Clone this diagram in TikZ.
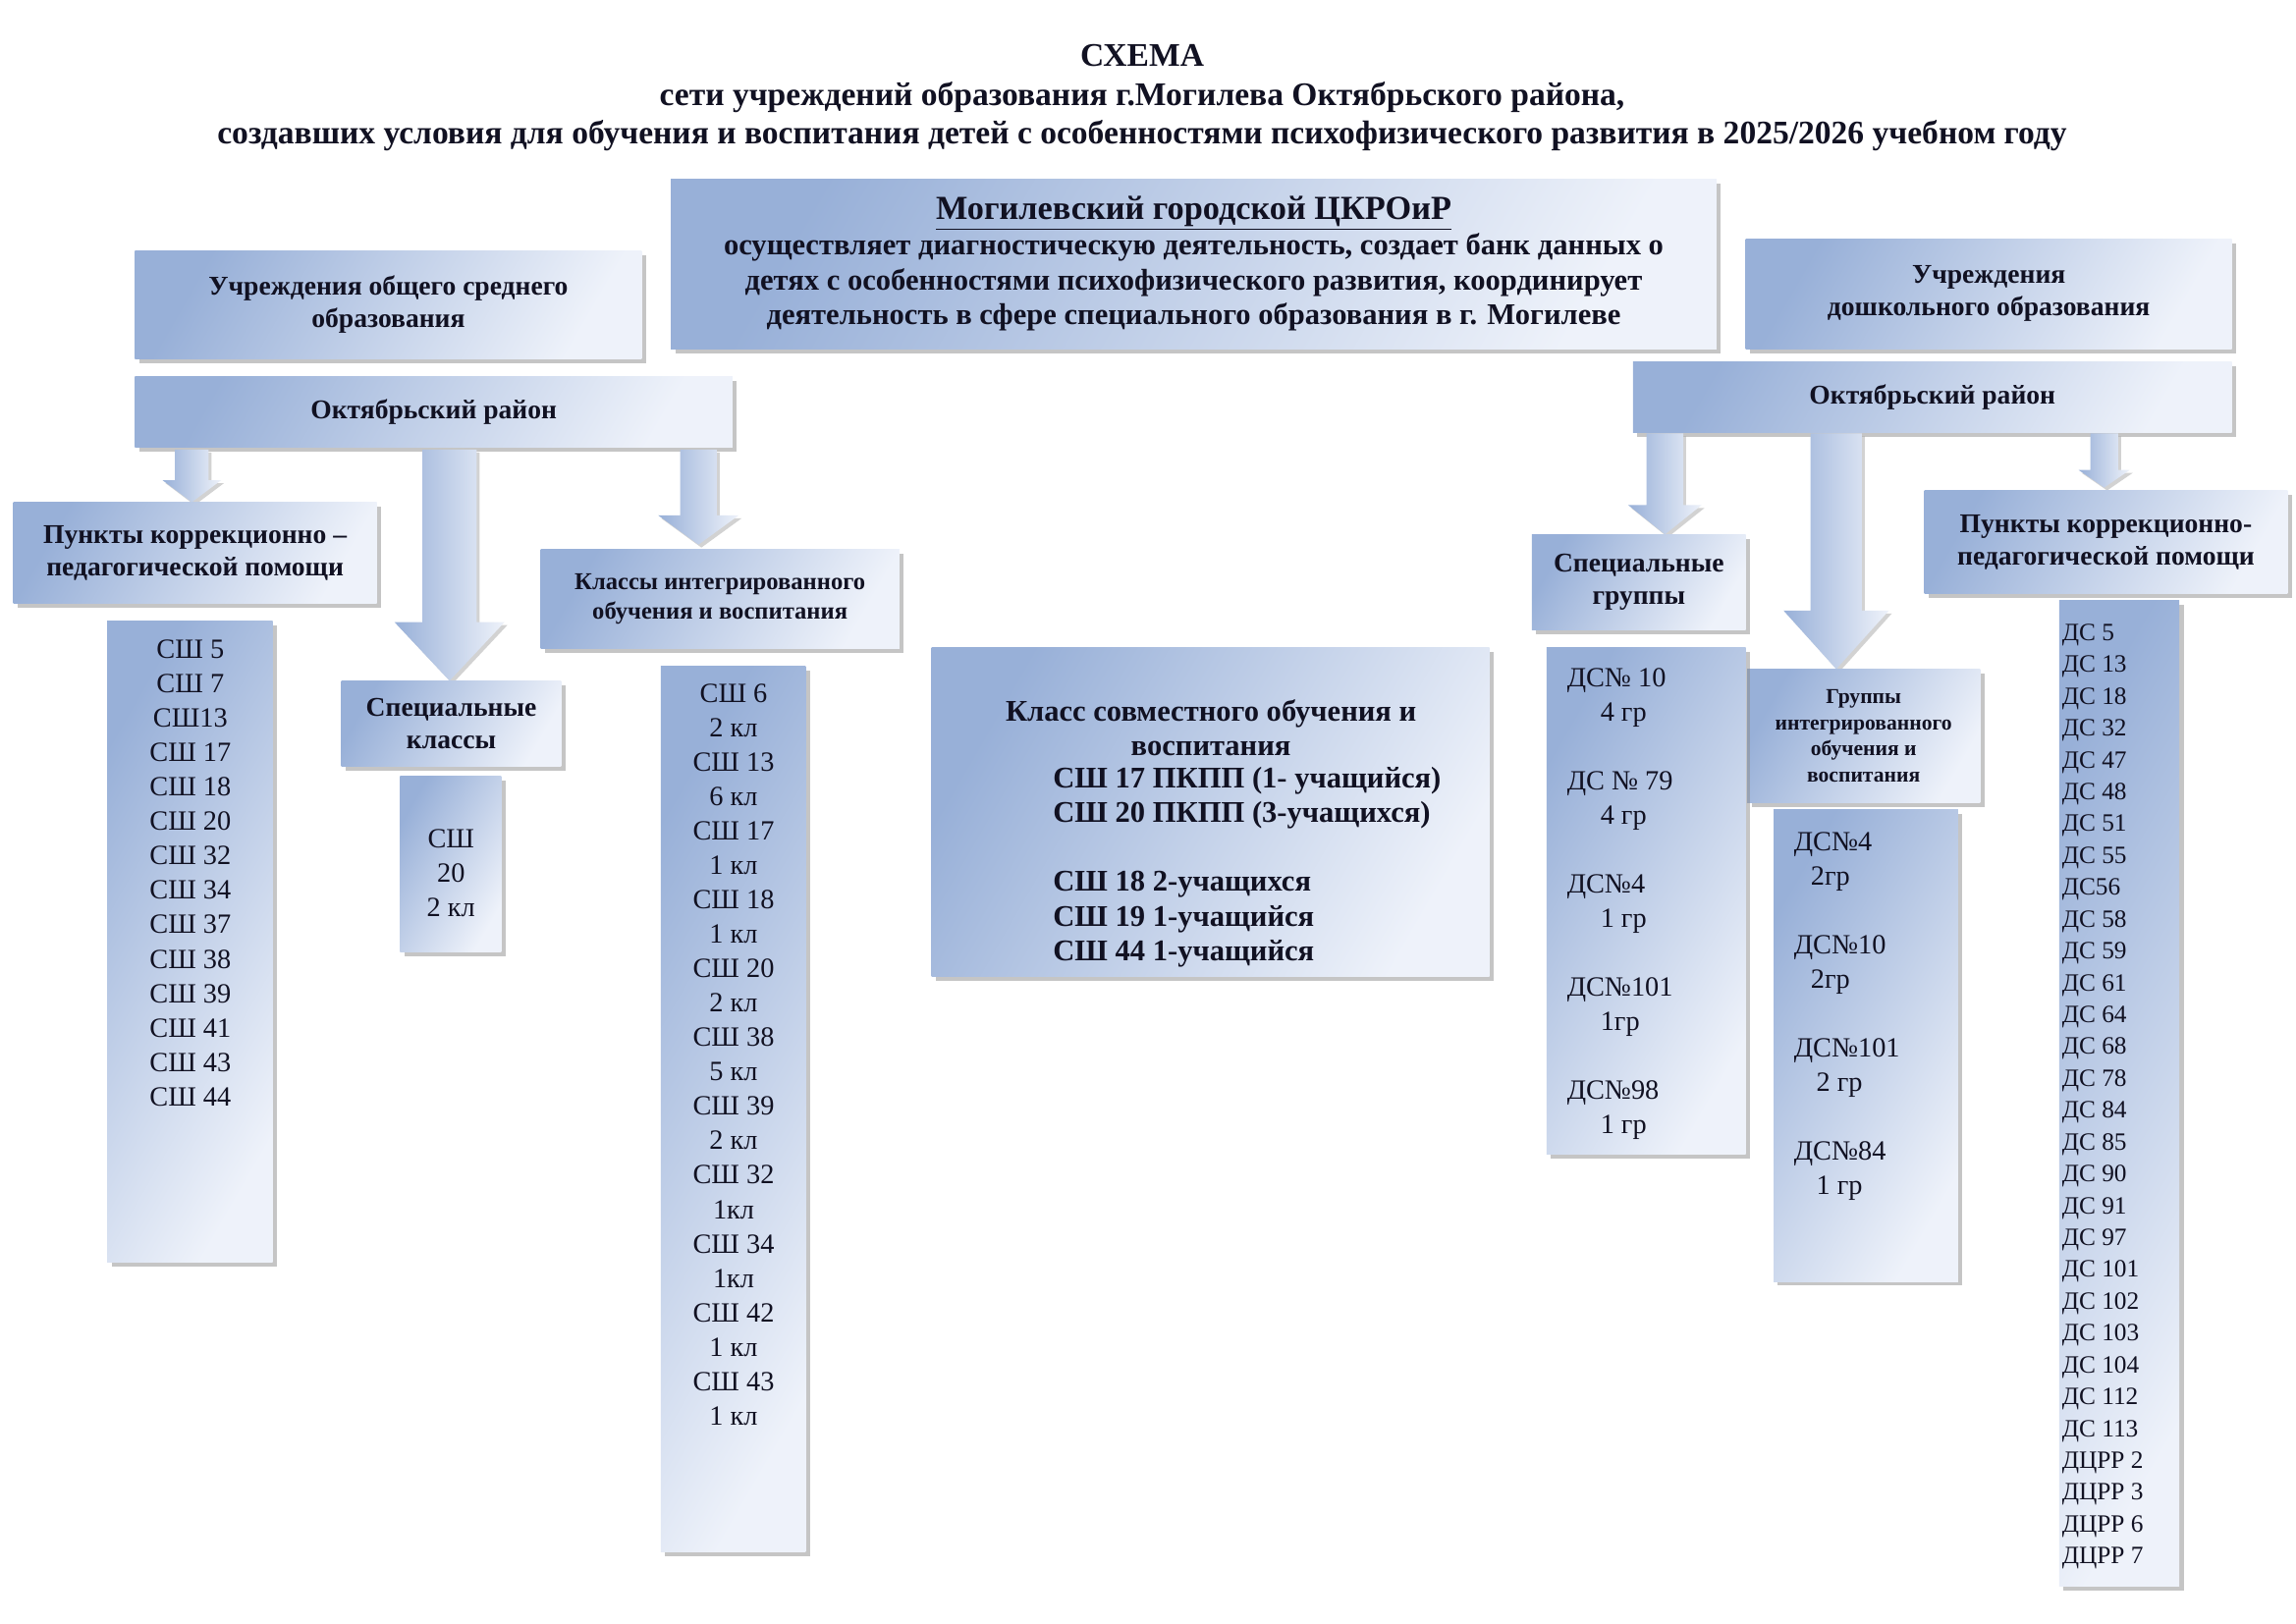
\documentclass[tikz,border=0pt]{standalone}
\usepackage{fontspec}
\setmainfont{Liberation Serif}
\usetikzlibrary{shadows}
\definecolor{bA}{HTML}{98B0D8}
\definecolor{bB}{HTML}{EEF2FA}
\definecolor{tx}{HTML}{111122}
\tikzset{
 box/.style={shading=axis,left color=bA,right color=bB,shading angle=60,
   drop shadow={shadow xshift=3pt,shadow yshift=-3pt,fill=black!45},
   anchor=north west,inner sep=2pt,align=center,text=tx,font=\bfseries\fontsize{18.5}{22}\selectfont},
 lst/.style={anchor=north,inner sep=0pt,text=tx,font=\fontsize{19}{23.5}\selectfont},
 arr/.style={shading=axis,left color=bA,right color=bB,shading angle=90,
   drop shadow={shadow xshift=2pt,shadow yshift=-2pt,fill=black!35}},
}
\newcommand{\bx}[7][]{\node[box,minimum width=#4-#2,minimum height=#5-#3,#1] (#6) at (#2,#3) {#7};}
\newcommand{\darr}[6]{\path[arr] (#1-#4/2,#2) -- (#1+#4/2,#2) -- (#1+#4/2,#3-#6) -- (#1+#5/2,#3-#6) -- (#1,#3) -- (#1-#5/2,#3-#6) -- (#1-#4/2,#3-#6) -- cycle;}
\begin{document}
\begin{tikzpicture}[x=1pt,y=-1pt]
\useasboundingbox[fill=white] (0,0) rectangle (1568,1109);
\node[text=tx,font=\bfseries\fontsize{22.5}{26.5}\selectfont,align=center] (title) at (780,67)
 {СХЕМА\\сети учреждений образования г.Могилева Октябрьского района,\\создавших условия для обучения и воспитания детей с особенностями психофизического развития в 2025/2026 учебном году};
% top boxes
\bx[font=\bfseries\fontsize{20.5}{24}\selectfont]{458}{122}{1172}{238}{cent}{{\fontsize{23}{24}\selectfont\underline{Могилевский городской ЦКРОиР}}\\осуществляет диагностическую деятельность, создает банк данных о\\детях с особенностями психофизического развития, координирует\\деятельность в сфере специального образования в г. Могилеве}
\bx{92}{171}{438}{245}{osr}{Учреждения общего среднего\\образования}
\bx{1192}{163}{1524}{238}{dosh}{Учреждения\\дошкольного образования}
\bx{92}{257}{500}{305}{lr}{Октябрьский район}
\bx{1115}{247}{1524}{295}{rr}{Октябрьский район}
% arrows
\darr{131}{307}{343}{23}{40}{15}
\darr{307}{307}{465}{37}{75}{40}
\darr{477}{307}{372}{25}{55}{20}
\darr{1137}{296}{365}{25}{50}{20}
\darr{1254}{296}{457}{35}{72}{40}
\darr{1437}{296}{333}{19}{35}{12}
% sub headers
\bx{9}{343}{257}{412}{pkp}{Пункты коррекционно –\\педагогической помощи}
\bx{233}{465}{383}{523}{spk}{Специальные\\классы}
\bx[font=\bfseries\fontsize{16.5}{20}\selectfont]{369}{375}{614}{443}{kio}{Классы интегрированного\\обучения и воспитания}
\bx{1046}{365}{1192}{430}{spg}{Специальные\\группы}
\bx[font=\bfseries\fontsize{14.5}{18}\selectfont]{1193}{457}{1352}{548}{gio}{Группы\\интегрированного\\обучения и\\воспитания}
\bx{1314}{335}{1562}{405}{pkp2}{Пункты коррекционно-\\педагогической помощи}
% list boxes
\bx{73}{424}{186}{862}{l1}{}
\bx{273}{530}{342}{650}{l2}{}
\bx{451}{455}{550}{1060}{l3}{}
\bx{636}{442}{1017}{667}{mid}{}
\bx{1056}{442}{1192}{788}{l4}{}
\bx{1211}{553}{1337}{875}{l5}{}
\bx{1406}{410}{1488}{1083}{l6}{}
\node[lst,align=center] (t1) at (130,437) {СШ 5\\СШ 7\\СШ13\\СШ 17\\СШ 18\\СШ 20\\СШ 32\\СШ 34\\СШ 37\\СШ 38\\СШ 39\\СШ 41\\СШ 43\\СШ 44};
\node[lst,align=center] (t2) at (308,566) {СШ\\20\\2 кл};
\node[lst,align=center] (t3) at (501,467) {СШ 6\\2 кл\\СШ 13\\6 кл\\СШ 17\\1 кл\\СШ 18\\1 кл\\СШ 20\\2 кл\\СШ 38\\5 кл\\СШ 39\\2 кл\\СШ 32\\1кл\\СШ 34\\1кл\\СШ 42\\1 кл\\СШ 43\\1 кл};
\node[anchor=north,inner sep=0pt,text=tx,font=\bfseries\fontsize{20.5}{23.5}\selectfont,align=center] (t4a) at (827,478) {Класс совместного обучения и\\воспитания};
\node[anchor=north west,inner sep=0pt,text=tx,font=\bfseries\fontsize{20.5}{23.5}\selectfont,align=left] (t4b) at (719,524) {СШ 17 ПКПП (1- учащийся)\\СШ 20 ПКПП (3-учащихся)\\[23.5pt]СШ 18 2-учащихся\\СШ 19 1-учащийся\\СШ 44 1-учащийся};
\node[lst,anchor=north west,align=left] (t5) at (1070,456) {ДС№ 10\\\hspace{1.2em}4 гр\\[23.5pt]ДС № 79\\\hspace{1.2em}4 гр\\[23.5pt]ДС№4\\\hspace{1.2em}1 гр\\[23.5pt]ДС№101\\\hspace{1.2em}1гр\\[23.5pt]ДС№98\\\hspace{1.2em}1 гр};
\node[lst,anchor=north west,align=left] (t6) at (1225,568) {ДС№4\\\hspace{0.6em}2гр\\[23.5pt]ДС№10\\\hspace{0.6em}2гр\\[23.5pt]ДС№101\\\hspace{0.8em}2 гр\\[23.5pt]ДС№84\\\hspace{0.8em}1 гр};
\node[lst,anchor=north west,align=left,font=\fontsize{17}{21.75}\selectfont] (t7) at (1408,426) {ДС 5\\ДС 13\\ДС 18\\ДС 32\\ДС 47\\ДС 48\\ДС 51\\ДС 55\\ДС56\\ДС 58\\ДС 59\\ДС 61\\ДС 64\\ДС 68\\ДС 78\\ДС 84\\ДС 85\\ДС 90\\ДС 91\\ДС 97\\ДС 101\\ДС 102\\ДС 103\\ДС 104\\ДС 112\\ДС 113\\ДЦРР 2\\ДЦРР 3\\ДЦРР 6\\ДЦРР 7};
\end{tikzpicture}
\end{document}
